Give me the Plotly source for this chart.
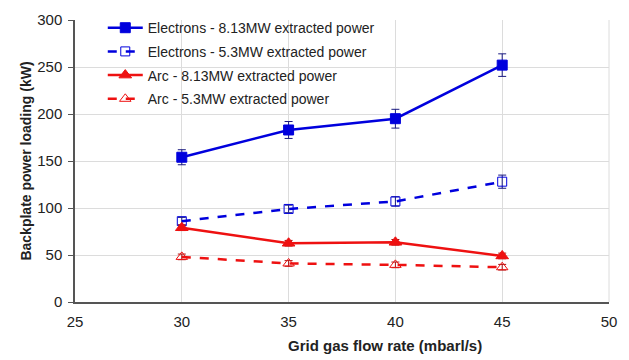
import plotly.graph_objects as go

flow = [30, 35, 40, 45]
elec_813 = [154, 183, 195, 252]
elec_813_err = [8, 9, 10, 12]
elec_53 = [86, 99, 107, 128]
elec_53_err = [4, 4, 5, 7]
arc_813 = [79, 62.5, 63.5, 49]
arc_813_err = [3, 3, 3, 3]
arc_53 = [48, 41, 39.5, 37]
arc_53_err = [3, 3, 3, 3]

names = ["Electrons - 8.13MW extracted power", "Electrons - 5.3MW extracted power",
         "Arc - 8.13MW extracted power", "Arc - 5.3MW extracted power"]

BLUE = "#0000dd"
RED = "#ee1111"
font = "Liberation Sans, Arial, sans-serif"

fig = go.Figure()
series = [
    (elec_813, elec_813_err, names[0], BLUE, "solid", "square", 10, "#1a1a80"),
    (elec_53, elec_53_err, names[1], BLUE, "dash", "square-open", 9, "#1a1a80"),
    (arc_813, arc_813_err, names[2], RED, "solid", "triangle-up", 11, "#aa1111"),
    (arc_53, arc_53_err, names[3], RED, "dash", "triangle-up-open", 10, "#aa1111"),
]
for i, (y, e, n, c, dash, sym, ms, ec) in enumerate(series):
    fig.add_trace(go.Scatter(
        x=flow, y=y, name=n, mode="lines+markers", legendgroup=f"g{i}",
        line=dict(color=c, width=2.5, dash=dash),
        marker=dict(symbol=sym, size=ms, color=c, line=dict(color=c, width=1)),
        error_y=dict(type="data", array=e, visible=True, color=ec, thickness=1, width=4),
    ))

fig.update_layout(
    width=629, height=360,
    margin=dict(l=75, r=20, t=14, b=58),
    paper_bgcolor="white", plot_bgcolor="white",
    font=dict(family=font, size=15, color="#222"),
    showlegend=True,
    legend=dict(x=0.052, y=1.028, xanchor="left", yanchor="top",
                bgcolor="rgba(255,255,255,0)", font=dict(size=14, color="#222"),
                tracegroupgap=2.5, itemwidth=35),
    xaxis=dict(range=[25, 50], tickvals=[25, 30, 35, 40, 45, 50], showgrid=True,
               gridcolor="#dcdcdc", showline=True, linecolor="#555", linewidth=1.5,
               mirror=False, zeroline=False, ticks="", ticklabelstandoff=5,
               tickfont=dict(size=15)),
    yaxis=dict(range=[0, 300], tickvals=[0, 50, 100, 150, 200, 250, 300], showgrid=True,
               gridcolor="#dcdcdc", showline=True, linecolor="#555", linewidth=1.5,
               zeroline=False, ticks="outside", ticklen=5, tickcolor="#555",
               ticklabelstandoff=3, tickfont=dict(size=15),
               title=dict(text="<b>Backplate power loading (kW)</b>", font=dict(size=14), standoff=2)),
    annotations=[dict(text="<b>Grid gas flow rate (mbarl/s)</b>", x=0.58, y=-0.156,
                      xref="paper", yref="paper", showarrow=False, xanchor="center",
                      yanchor="middle", font=dict(size=15, color="#222"))],
    shapes=[dict(type="line", xref="paper", yref="paper", x0=1, x1=1, y0=0, y1=1,
                 line=dict(color="#dcdcdc", width=1))],
)
fig.write_html("out.html")
